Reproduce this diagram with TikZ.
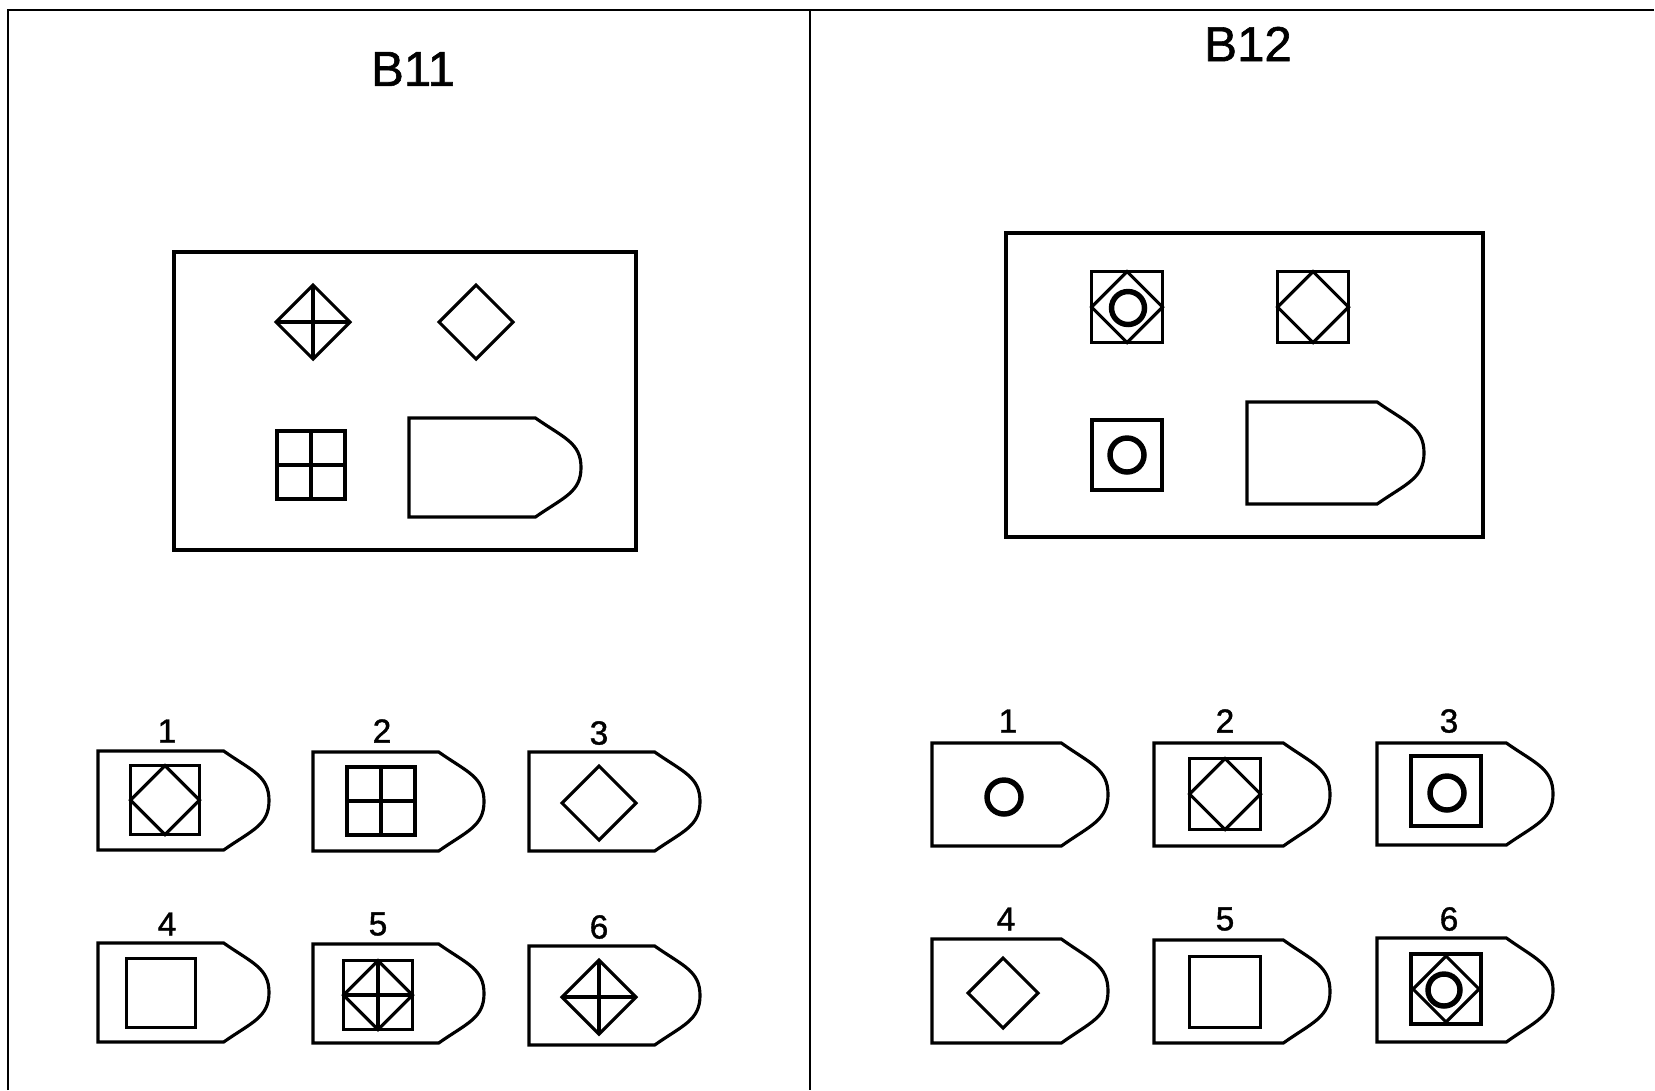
\documentclass[tikz,border=0pt]{standalone}
\usepackage{fontspec}
\setmainfont{Liberation Sans}
\newfontfamily\printfont{Liberation Sans}[FakeBold=1.2]
\tikzset{
  fig/.style={line width=1.8pt},
  frame/.style={line width=1.5pt},
  ringline/.style={line width=3.1pt},
  title/.style={font=\printfont\fontsize{28}{30}\selectfont, inner sep=0pt},
  numlabel/.style={font=\printfont\fontsize{19}{21}\selectfont, inner sep=0pt}
}
\newcommand{\shieldshape}[4]{%
  \draw[fig] (#1,#2) -- ({#1+0.735*#3},#2)
    .. controls ({#1+0.90*#3},{#2+0.2*#4}) and ({#1+#3},{#2+0.25*#4}) .. ({#1+#3},{#2+0.5*#4})
    .. controls ({#1+#3},{#2+0.75*#4}) and ({#1+0.90*#3},{#2+0.8*#4}) .. ({#1+0.735*#3},{#2+#4})
    -- (#1,{#2+#4}) -- cycle;}
\newcommand{\diamondmark}[3]{\draw[fig] ({#1-#3},#2) -- (#1,{#2-#3}) -- ({#1+#3},#2) -- (#1,{#2+#3}) -- cycle;}
\newcommand{\crossmark}[3]{\draw[fig] ({#1-#3},#2) -- ({#1+#3},#2) (#1,{#2-#3}) -- (#1,{#2+#3});}
\newcommand{\squaremark}[3]{\draw[fig] ({#1-#3},{#2-#3}) rectangle ({#1+#3},{#2+#3});}
\newcommand{\ringmark}[3]{\draw[ringline] (#1,#2) circle [radius={#3*0.02cm}];}
\begin{document}
\begin{tikzpicture}[x=0.02cm,y=-0.02cm]
  \useasboundingbox (0,0) rectangle (1655,1090);
  \draw[frame] (8,1090) -- (8,10) -- (1654,10);
  \draw[frame] (810,10) -- (810,1090);


\node[title] (titleB11) at (413,69) {B11};

\node[title] (titleB12) at (1248,44) {B12};


  \draw[fig] (174,252) rectangle (636,550);
  \diamondmark{313}{322}{37} \crossmark{313}{322}{37}
  \diamondmark{476}{322}{37}
  \squaremark{311}{465}{34} \crossmark{311}{465}{34}
  \shieldshape{409}{418}{172}{99}

  \draw[fig] (1006,233) rectangle (1483,537);
  \squaremark{1127}{307}{35.5} \diamondmark{1127}{307}{35.5} \ringmark{1128}{308}{16.5}
  \squaremark{1313}{307}{35.5} \diamondmark{1313}{307}{35.5}
  \squaremark{1127}{455}{35} \ringmark{1127}{455}{17}
  \shieldshape{1247}{402}{177}{102}


\node[numlabel] (numA1) at (167,731) {1};
\node[numlabel] (numA2) at (382,731) {2};
\node[numlabel] (numA3) at (599,733) {3};
\node[numlabel] (numA4) at (167,924) {4};
\node[numlabel] (numA5) at (378,924) {5};
\node[numlabel] (numA6) at (599,927) {6};


  \shieldshape{98}{751}{171}{99}
  \squaremark{165}{800}{34.5} \diamondmark{165}{800}{34.5}
  \shieldshape{313}{752}{171}{99}
  \squaremark{381}{801}{34} \crossmark{381}{801}{34}
  \shieldshape{529}{752}{171}{99}
  \diamondmark{599}{803}{37}
  \shieldshape{98}{943}{171}{99}
  \squaremark{161}{993}{34.5}
  \shieldshape{313}{944}{171}{99}
  \squaremark{378}{995}{34.5} \diamondmark{378}{995}{34.5} \crossmark{378}{995}{34.5}
  \shieldshape{529}{946}{171}{99}
  \diamondmark{599}{997}{37} \crossmark{599}{997}{37}


\node[numlabel] (numB1) at (1008,721) {1};
\node[numlabel] (numB2) at (1225,721) {2};
\node[numlabel] (numB3) at (1449,721) {3};
\node[numlabel] (numB4) at (1006,919) {4};
\node[numlabel] (numB5) at (1225,919) {5};
\node[numlabel] (numB6) at (1449,919) {6};


  \shieldshape{932}{743}{176}{103}
  \ringmark{1004}{797}{17}
  \shieldshape{1154}{743}{176}{103}
  \squaremark{1225}{794}{35.5} \diamondmark{1225}{794}{35.5}
  \shieldshape{1377}{743}{176}{102}
  \squaremark{1446}{791}{35} \ringmark{1447}{793}{17}
  \shieldshape{932}{939}{176}{104}
  \diamondmark{1003}{993}{35}
  \shieldshape{1154}{940}{176}{103}
  \squaremark{1225}{992}{35.5}
  \shieldshape{1377}{938}{176}{104}
  \squaremark{1446}{989}{35} \diamondmark{1446}{989}{33} \ringmark{1444}{990}{16}
\end{tikzpicture}
\end{document}
